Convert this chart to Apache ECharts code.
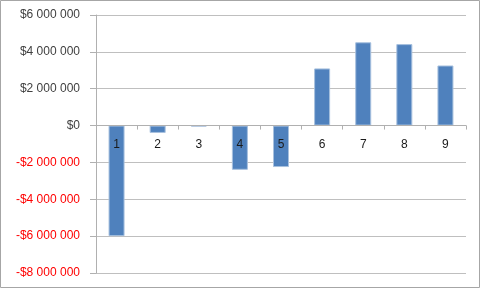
<!DOCTYPE html>
<html>
<head>
<meta charset="utf-8">
<script src="https://cdn.jsdelivr.net/npm/echarts@6/dist/echarts.min.js"></script>
<style>
html,body{margin:0;padding:0;background:#fff;}
#c{width:482px;height:289px;}
</style>
</head>
<body>
<div id="c"></div>
<script>
var categories = ['1','2','3','4','5','6','7','8','9'];
var values = [-6000000, -400000, -50000, -2400000, -2250000, 3100000, 4520000, 4420000, 3260000];
var yMin = -8000000, yMax = 6000000, yInterval = 2000000;

function fmt(v){
  var neg = v < 0;
  var s = String(Math.abs(v)).replace(/\B(?=(\d{3})+(?!\d))/g, ' ');
  return (neg ? '-$' : '$') + s;
}

var W = 482, H = 289;
var gridTop = 15, gridBottom = 16;
var plotH = H - gridTop - gridBottom;
// place the category axis on the zero line
var zeroOffset = -plotH * (0 - yMin) / (yMax - yMin);

var chart = echarts.init(document.getElementById('c'), null, {renderer:'canvas'});
chart.setOption({
  animation: false,
  backgroundColor: '#fff',
  graphic: [{
    type: 'rect', silent: true, z: -1,
    shape: {x: 0.5, y: 0.5, width: 479, height: 287},
    style: {fill: 'none', stroke: '#a6a6a6', lineWidth: 1}
  }],
  grid: {left: 96, right: 16, top: gridTop, bottom: gridBottom, containLabel: false, outerBoundsMode: 'none'},
  xAxis: {
    type: 'category',
    data: categories,
    position: 'bottom',
    offset: zeroOffset,
    z: 10,
    axisLine: {show: true, onZero: false, lineStyle: {color: '#b0b0b0', width: 1}},
    axisTick: {show: true, length: 4, inside: false, lineStyle: {color: '#b0b0b0'}},
    axisLabel: {margin: 13, fontFamily: 'Liberation Sans', fontSize: 12, color: '#1a1a1a'},
    splitLine: {show: false}
  },
  yAxis: {
    type: 'value',
    min: yMin, max: yMax, interval: yInterval,
    axisLine: {show: true, lineStyle: {color: '#b0b0b0', width: 1}},
    axisTick: {show: true, length: 6, lineStyle: {color: '#b0b0b0'}},
    axisLabel: {
      margin: 16,
      fontFamily: 'Liberation Sans', fontSize: 12,
      formatter: fmt,
      color: function(v){ return Number(v) < 0 ? '#ff0000' : '#404040'; }
    },
    splitLine: {show: true, lineStyle: {color: '#bfbfbf', width: 1}}
  },
  series: [{
    type: 'bar',
    data: values,
    barWidth: 16,
    z: 2,
    itemStyle: {color: '#4f81bd', borderColor: '#a7c0de', borderWidth: 1}
  }]
});
</script>
</body>
</html>
